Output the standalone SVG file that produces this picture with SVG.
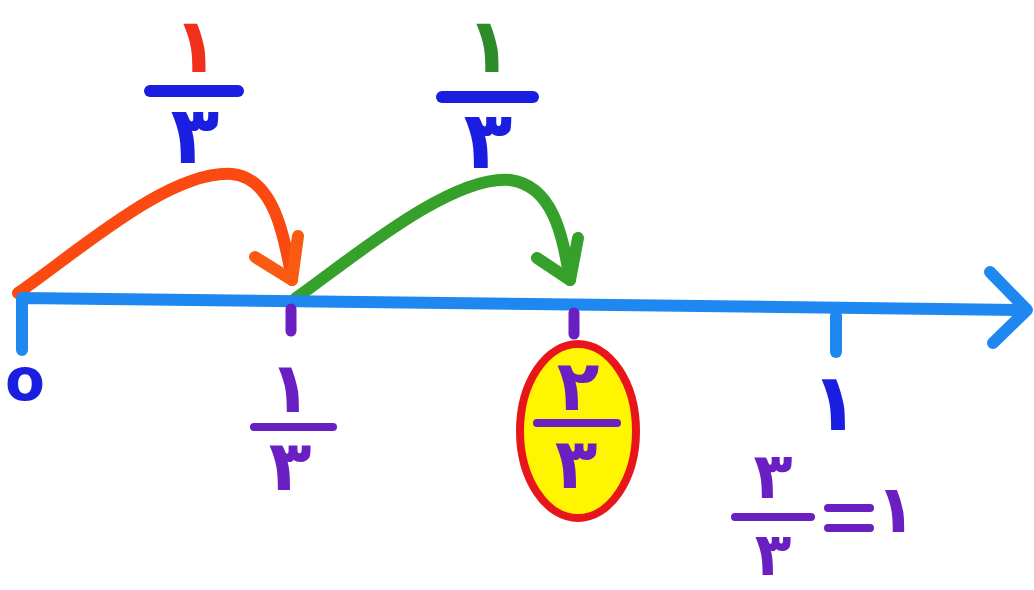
<svg xmlns="http://www.w3.org/2000/svg" width="1034" height="590" viewBox="0 0 1034 590">
<style>
.d{font-family:"DejaVu Sans","Noto Sans",sans-serif;font-weight:bold;text-anchor:middle}
.ln{fill:none;stroke-linecap:round;stroke-linejoin:round}
.axis{stroke:#1e88f0;stroke-width:12}
.pur{fill:#6a1fc2}
.purS{stroke:#6a1fc2}
.blu{fill:#1a1ee0}
.bluS{stroke:#1a1ee0}
</style>
<rect width="1034" height="590" fill="#ffffff"/>
<g id="connectors">
  <path class="ln" d="M18,293 C80,250 170,170 232,174 C275,178 285,240 292,280" stroke="#fa4a12" stroke-width="12"/>
  <path class="ln" d="M255,257 L292,280 L298,236" stroke="#fa5a12" stroke-width="12"/>
  <path class="ln" d="M296,298 C350,260 450,175 510,180 C555,186 563,240 570,280" stroke="#35a02a" stroke-width="12"/>
  <path class="ln" d="M537,258 L570,280 L578,238" stroke="#35a02a" stroke-width="12"/>
</g>
<g id="axis">
  <path class="ln axis" d="M22,350 L22,298 L1026,310"/>
  <path class="ln axis" d="M990,272 L1027,310 L993,343"/>
  <line class="ln purS" x1="291" y1="309" x2="291" y2="331" stroke-width="11"/>
  <line class="ln purS" x1="574" y1="313" x2="574" y2="334" stroke-width="11"/>
  <line class="ln" x1="836" y1="316" x2="836" y2="352" stroke="#1e88f0" stroke-width="12"/>
</g>
<g id="zero">
  <text class="d blu" x="25" y="400" font-size="58">o</text>
</g>
<g id="top-frac-1">
  <text class="d" x="196" y="72" font-size="76" fill="#f0301a">۱</text>
  <line class="ln bluS" x1="150" y1="91" x2="238" y2="91" stroke-width="12"/>
  <text class="d blu" x="195" y="163" font-size="80">۳</text>
</g>
<g id="top-frac-2">
  <text class="d" x="489" y="72" font-size="76" fill="#2e8b2a">۱</text>
  <line class="ln bluS" x1="442" y1="97" x2="533" y2="97" stroke-width="12"/>
  <text class="d blu" x="488" y="168" font-size="80">۳</text>
</g>
<g id="label-1-3">
  <text class="d pur" x="290" y="412" font-size="70">۱</text>
  <line class="ln purS" x1="254" y1="427" x2="333" y2="427" stroke-width="8"/>
  <text class="d pur" x="290" y="490" font-size="70">۳</text>
</g>
<g id="label-2-3">
  <ellipse cx="578" cy="431" rx="58" ry="87" fill="#fff500" stroke="#e8161a" stroke-width="8"/>
  <text class="d pur" x="578" y="410" font-size="70">۲</text>
  <line class="ln purS" x1="537" y1="423" x2="617" y2="423" stroke-width="8"/>
  <text class="d pur" x="576" y="488" font-size="70">۳</text>
</g>
<g id="label-1">
  <text class="d" x="835" y="430" font-size="80" fill="#1a1ee0">۱</text>
  <text class="d pur" x="773" y="498" font-size="64">۳</text>
  <line class="ln purS" x1="735" y1="517" x2="811" y2="517" stroke-width="8"/>
  <text class="d pur" x="773" y="575" font-size="60">۳</text>
  <line class="ln purS" x1="828" y1="508" x2="870" y2="508" stroke-width="8"/>
  <line class="ln purS" x1="828" y1="528" x2="870" y2="528" stroke-width="8"/>
  <text class="d pur" x="896" y="532" font-size="66">۱</text>
</g>
</svg>
